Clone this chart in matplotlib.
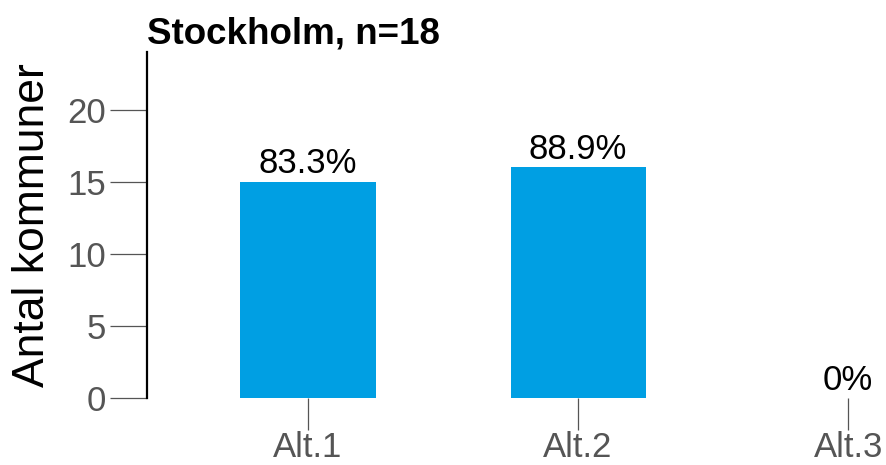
import matplotlib.pyplot as plt

plt.rcParams['font.family'] = ['Liberation Sans', 'DejaVu Sans']

CATEGORIES = ['Alt.1', 'Alt.2', 'Alt.3']
COUNTS = [15, 16, 0]
N_TOTAL = 18
TITLE = 'Stockholm, n=18'

BAR_COLOR = '#009FE3'
TICK_GRAY = '#555555'


def main() -> None:
    fig = plt.figure(figsize=(8.86, 4.65), dpi=100)
    ax = fig.add_axes([147 / 886, 67 / 465, (886 - 147) / 886, 346 / 465])

    xs = list(range(len(CATEGORIES)))
    ax.bar(xs, COUNTS, width=0.5, color=BAR_COLOR)

    for x, c in zip(xs, COUNTS):
        pct = c / N_TOTAL * 100
        label = f"{pct:.1f}%" if c > 0 else "0%"
        ax.text(x, c + 0.1, label, ha='center', va='bottom', fontsize=25, color='black')

    ax.set_xlim(-0.596, 2.14)
    ax.set_ylim(0, 24)
    ax.set_yticks([0, 5, 10, 15, 20])
    ax.set_xticks(xs)
    ax.set_xticklabels(CATEGORIES)

    for side in ['top', 'right', 'bottom']:
        ax.spines[side].set_visible(False)
    ax.spines['left'].set_linewidth(1.6)
    ax.spines['left'].set_color('black')

    ax.tick_params(axis='y', length=26.5, width=0.9, color=TICK_GRAY, labelcolor=TICK_GRAY,
                   labelsize=25, pad=3)
    ax.tick_params(axis='x', length=23, width=0.9, color=TICK_GRAY, labelcolor=TICK_GRAY,
                   labelsize=25, pad=1)

    ax.set_ylabel('Antal kommuner', fontsize=32, labelpad=10)
    ax.set_title(TITLE, loc='left', fontsize=26.5, fontweight='bold', pad=6)

    fig.savefig('out.png', dpi=100)


if __name__ == "__main__":
    main()
